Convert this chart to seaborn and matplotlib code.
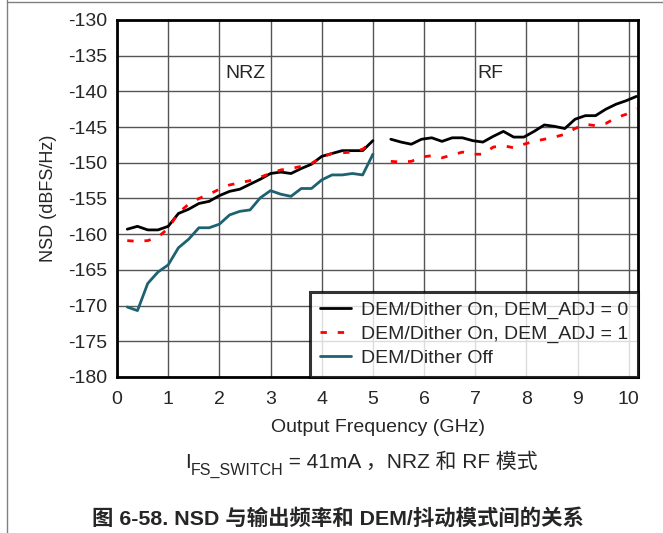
import numpy as np
import pandas as pd
import seaborn as sns
import matplotlib.pyplot as plt
from matplotlib.lines import Line2D

# output frequency (GHz), NRZ band and RF band
nrz_freq = [0.2, 0.4, 0.6, 0.8, 1.0, 1.2, 1.4, 1.6, 1.8, 2.0, 2.2, 2.4, 2.6,
            2.8, 3.0, 3.2, 3.4, 3.6, 3.8, 4.0, 4.2, 4.4, 4.6, 4.8, 5.0]
rf_freq = [5.35, 5.55, 5.75, 5.95, 6.15, 6.35, 6.55, 6.75, 6.95, 7.15, 7.35,
           7.55, 7.75, 7.95, 8.15, 8.35, 8.55, 8.75, 8.95, 9.15, 9.35, 9.55,
           9.75, 9.95, 10.15]

# NSD (dBFS/Hz)
adj0_nrz = [-159.3, -158.9, -159.4, -159.4, -158.9, -157.1, -156.5, -155.7,
            -155.4, -154.6, -154.0, -153.7, -153.0, -152.3, -151.5, -151.3,
            -151.5, -150.8, -150.2, -149.1, -148.7, -148.3, -148.3, -148.3,
            -146.9]
adj0_rf = [-146.7, -147.1, -147.4, -146.7, -146.5, -147.0, -146.5, -146.5,
           -146.9, -147.1, -146.3, -145.6, -146.4, -146.4, -145.6, -144.7,
           -144.9, -145.2, -143.9, -143.4, -143.4, -142.5, -141.8, -141.3,
           -140.7]
adj1_nrz = [-160.9, -161.0, -160.9, -160.4, -159.2, -157.0, -155.8, -155.0,
            -154.4, -153.7, -153.1, -152.8, -152.5, -152.0, -151.5, -151.0,
            -150.8, -150.5, -150.1, -149.2, -148.7, -148.6, -148.5, -148.1,
            -147.0]
adj1_rf = [-149.8, -149.9, -149.8, -149.2, -149.0, -149.3, -148.9, -148.5,
           -148.8, -148.8, -147.8, -147.6, -147.9, -147.4, -147.0, -146.7,
           -146.4, -146.0, -145.2, -144.6, -144.8, -144.5, -143.7, -143.2,
           -142.4]
off_nrz = [-170.2, -170.7, -166.9, -165.3, -164.3, -161.9, -160.7, -159.1,
           -159.1, -158.6, -157.3, -156.8, -156.6, -154.9, -153.9, -154.4,
           -154.7, -153.6, -153.6, -152.4, -151.7, -151.7, -151.5, -151.7,
           -148.8]

labels = ["DEM/Dither On, DEM_ADJ = 0", "DEM/Dither On, DEM_ADJ = 1",
          "DEM/Dither Off"]
colors = {labels[0]: "#000000", labels[1]: "#ff0000", labels[2]: "#1d6270"}
dashes = {labels[0]: "", labels[1]: (2.3, 3.9), labels[2]: ""}

x_ticks = list(range(0, 11))
y_ticks = list(range(-180, -129, 5))


def make_frame():
    parts = [
        (labels[0], "nrz", nrz_freq, adj0_nrz),
        (labels[0], "rf", rf_freq, adj0_rf),
        (labels[1], "nrz", nrz_freq, adj1_nrz),
        (labels[1], "rf", rf_freq, adj1_rf),
        (labels[2], "nrz", nrz_freq, off_nrz),
    ]
    rows = []
    for name, band, freq, nsd in parts:
        for f, v in zip(freq, nsd):
            rows.append({"series": name, "band": band, "freq": f, "nsd": v})
    return pd.DataFrame(rows)


sns.set_style("white")
plt.rcParams["font.family"] = ["Liberation Sans", "Noto Sans CJK SC"]
plt.rcParams["axes.unicode_minus"] = False

fig = plt.figure(figsize=(6.63, 5.33), dpi=100)
ax = fig.add_axes([0.1765, 0.2927, 0.7858, 0.6698])

df = make_frame()
sns.lineplot(data=df, x="freq", y="nsd", hue="series", style="series",
             units="band", estimator=None, sort=False, hue_order=labels,
             style_order=labels, palette=colors, dashes=dashes,
             linewidth=2.0, ax=ax)

ax.set_xlim(0, 10.18)
ax.set_ylim(-180, -130)
ax.set_xticks(x_ticks)
ax.set_yticks(y_ticks)
ax.grid(True, color="#555555", linewidth=1.0)
ax.tick_params(axis="y", length=0, pad=7, labelsize=14)
ax.tick_params(axis="x", length=0, pad=10, labelsize=14)
for s in ax.spines.values():
    s.set_color("black")
    s.set_linewidth(2.0)
ax.set_xlabel("Output Frequency (GHz)", fontsize=14, labelpad=8)
ax.set_ylabel("NSD (dBFS/Hz)", fontsize=13, labelpad=8)

ax.text(2.5, -137.5, "NRZ", fontsize=14, ha="center", va="center")
ax.text(7.3, -137.5, "RF", fontsize=14, ha="center", va="center")

handles, names = ax.get_legend_handles_labels()
leg = ax.legend(handles, names, loc="lower right", fontsize=14,
                frameon=True, fancybox=False, borderaxespad=0,
                handlelength=1.6, handletextpad=0.5, labelspacing=0.32,
                borderpad=0.5)
leg.get_frame().set_edgecolor("black")
leg.get_frame().set_linewidth(2.2)

# subtitle with subscript, chained piece by piece
t1 = fig.text(185 / 663, 1 - 468 / 533, "I", fontsize=15, ha="left",
              va="baseline")
t2 = ax.annotate("FS_SWITCH", xy=(1, 0), xycoords=t1, xytext=(0, -4),
                 textcoords="offset points", fontsize=11.5, ha="left",
                 va="bottom", annotation_clip=False)
ax.annotate(" = 41mA ，NRZ 和 RF 模式", xy=(1, 0), xycoords=t2,
            xytext=(0, 4), textcoords="offset points", fontsize=15,
            ha="left", va="bottom", annotation_clip=False)

fig.text(0.51, 1 - 518 / 533, "图 6-58. NSD 与输出频率和 DEM/抖动模式间的关系",
         fontsize=15.4, fontweight="bold", ha="center", va="center")

# page frame lines
fig.add_artist(Line2D([7 / 663, 7 / 663], [0, 1], color="#808080",
                      linewidth=1.0))
fig.add_artist(Line2D([7 / 663, 1], [1 - 2 / 533, 1 - 2 / 533],
                      color="#808080", linewidth=1.0))

fig.savefig("out.png", dpi=100)
